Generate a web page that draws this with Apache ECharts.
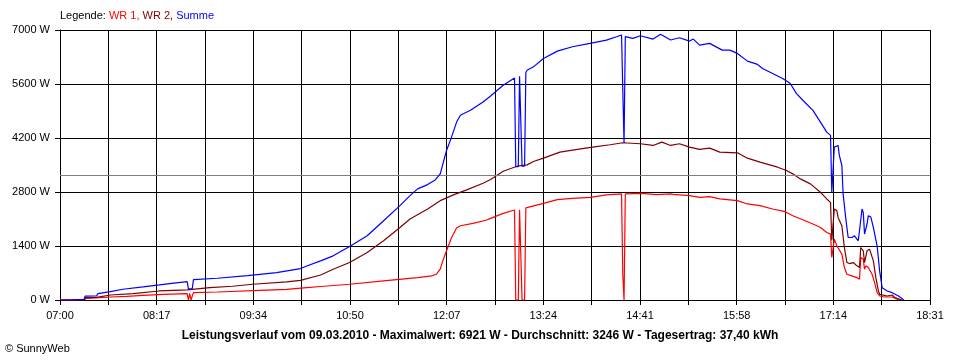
<!DOCTYPE html>
<html>
<head>
<meta charset="utf-8">
<style>
  html, body { margin: 0; padding: 0; background: #ffffff; }
  #chart { width: 960px; height: 360px; }
</style>
<script src="https://cdn.jsdelivr.net/npm/echarts@6/dist/echarts.min.js"></script>
</head>
<body>
<div id="chart"></div>
<script>
// ---- data ----
const timeStart = "07:00";
const timeEnd = "18:31";
const xTickLabels = ["07:00","08:17","09:34","10:50","12:07","13:24","14:41","15:58","17:14","18:31"];
const yMax = 7000;
const yStep = 1400;
const averageW = 3246;
const legendLabels = ["WR 1", "WR 2", "Summe"];
const titleText = "Leistungsverlauf vom 09.03.2010 - Maximalwert: 6921 W - Durchschnitt: 3246 W - Tagesertrag: 37,40 kWh";
const copyrightText = "\u00A9 SunnyWeb";

const wr1 = [
  ["07:00",0],["07:19",0],["07:20",18],["07:21",44],["07:32",60],["07:40",78],["07:53",96],["08:06",122],["08:22",148],
  ["08:41",165],["08:42",0],["08:43",170],["08:44",0],["08:45",0],["08:46",190],["09:05",208],["09:39",252],["10:00",278],
  ["10:16",320],["10:27",350],["10:50",408],["11:17",494],["11:44",580],["11:55",624],["11:59",668],["12:02",798],
  ["12:04",1015],["12:07",1275],["12:11",1621],["12:15",1866],["12:18",1925],["12:28",1985],["12:39",2074],["12:42",2116],
  ["12:52",2246],["13:01",2334],["13:02",0],["13:04",0],["13:05",2340],["13:06",2340],["13:07",0],["13:09",0],["13:10",2390],
  ["13:11",2402],["13:24",2506],["13:35",2602],["13:47",2636],["14:01",2662],["14:14",2724],["14:26",2750],["14:27",668],
  ["14:28",0],["14:29",2750],["14:41",2766],["14:54",2732],["15:05",2750],["15:07",2740],["15:20",2706],["15:28",2662],
  ["15:36",2680],["15:44",2620],["15:58",2576],["16:06",2490],["16:16",2446],["16:26",2360],["16:36",2290],["16:42",2186],
  ["16:50",2082],["16:58",1970],["17:04",1881],["17:09",1751],["17:12",1709],["17:13",1101],["17:14",1101],["17:15",1579],
  ["17:17",1405],["17:18",1361],["17:21",1189],["17:23",841],["17:25",668],["17:29",624],["17:33",580],["17:35",538],
  ["17:36",1101],["17:38",1059],["17:39",798],["17:40",885],["17:42",841],["17:45",668],["17:47",450],["17:49",190],
  ["17:51",104],["17:55",78],["18:01",78],["18:05",18],["18:06",0]
];

const wr2 = [
  ["07:00",0],["07:19",0],["07:20",60],["07:29",70],["07:30",86],["07:40",130],["07:58",164],["08:19",234],["08:41",260],
  ["08:59",320],["09:17",356],["09:33",408],["10:00",468],["10:11",510],["10:27",648],["10:37",798],["10:50",971],
  ["11:04",1231],["11:17",1535],["11:30",1881],["11:38",2100],["11:52",2360],["12:02",2576],["12:13",2732],["12:23",2854],
  ["12:36",3026],["12:42",3122],["12:52",3339],["13:03",3469],["13:11",3504],["13:16",3591],["13:24",3677],["13:37",3833],
  ["13:51",3903],["14:03",3963],["14:17",4025],["14:27",4077],["14:41",4051],["14:51",4007],["14:58",4093],["15:05",4007],
  ["15:12",4051],["15:20",3963],["15:28",3903],["15:36",3937],["15:44",3833],["15:58",3816],["16:06",3677],["16:16",3573],
  ["16:30",3443],["16:37",3357],["16:42",3270],["16:48",3140],["16:56",3010],["17:04",2792],["17:09",2620],["17:12",2532],
  ["17:13",1550],["17:14",1550],["17:15",2360],["17:17",2316],["17:18",2142],["17:21",1925],["17:23",1361],["17:25",971],
  ["17:27",945],["17:30",971],["17:33",885],["17:35",841],["17:36",1361],["17:38",1275],["17:39",971],["17:41",1275],
  ["17:43",1319],["17:46",1015],["17:48",580],["17:50",234],["17:51",148],["17:57",104],["18:01",130],["18:03",60],
  ["18:07",18],["18:09",0]
];

const summe = [
  ["07:00",0],["07:07",0],["07:08",15],["07:19",15],["07:20",100],["07:29",104],["07:30",164],["07:40",216],["07:50",278],
  ["08:06",338],["08:19",390],["08:27",424],["08:41",476],["08:42",286],["08:45",286],["08:46",528],["09:05",564],
  ["09:29",632],["09:52",710],["10:11",815],["10:16",880],["10:27",1015],["10:37",1145],["10:50",1387],["11:04",1665],
  ["11:17",2056],["11:30",2446],["11:38",2706],["11:44",2880],["11:52",2992],["11:58",3114],["11:59",3078],["12:02",3270],
  ["12:07",3877],["12:11",4223],["12:15",4613],["12:18",4788],["12:26",4918],["12:36",5134],["12:42",5290],["12:52",5568],
  ["13:01",5758],["13:02",3460],["13:04",3460],["13:05",5800],["13:06",5800],["13:07",3470],["13:09",3470],["13:10",5900],
  ["13:11",5958],["13:16",6045],["13:24",6263],["13:35",6453],["13:47",6565],["14:01",6653],["14:14",6739],["14:22",6825],
  ["14:26",6869],["14:27",5440],["14:28",4070],["14:29",6830],["14:30",6825],["14:35",6783],["14:41",6850],["14:51",6765],
  ["14:57",6888],["15:05",6740],["15:12",6800],["15:20",6713],["15:23",6765],["15:28",6609],["15:36",6653],["15:46",6479],
  ["15:52",6479],["15:58",6393],["16:06",6193],["16:14",6107],["16:18",6003],["16:26",5873],["16:34",5743],["16:40",5613],
  ["16:45",5352],["16:50",5178],["16:58",4918],["17:04",4613],["17:09",4353],["17:12",4267],["17:13",2792],["17:14",2792],
  ["17:15",3963],["17:18",4007],["17:19",3747],["17:21",3487],["17:22",2750],["17:24",2142],["17:26",1621],["17:29",1621],
  ["17:31",1665],["17:34",1535],["17:35",1795],["17:37",2360],["17:38",2272],["17:39",1709],["17:41",1970],["17:42",2186],
  ["17:44",2150],["17:46",1881],["17:49",1405],["17:51",755],["17:53",320],["17:57",234],["18:01",190],["18:06",104],
  ["18:09",34],["18:10",0]
];

// ---- helpers ----
function toMin(t) { const p = t.split(":"); return (+p[0]) * 60 + (+p[1]); }
function prep(arr) { return arr.map(d => [toMin(d[0]), d[1]]); }

const xMin = toMin(timeStart);
const xMax = toMin(timeEnd);
const gridSteps = (xTickLabels.length - 1) * 2;

const FONT = "Liberation Sans, Arial, sans-serif";
const chart = echarts.init(document.getElementById("chart"), null, { renderer: "canvas" });

chart.setOption({
  animation: false,
  backgroundColor: "#ffffff",
  textStyle: { fontFamily: FONT },
  title: [
    {
      text: "{k|Legende:} {a|" + legendLabels[0] + ",} {b|" + legendLabels[1] + ",} {c|" + legendLabels[2] + "}",
      left: 60, top: 10, padding: 0,
      textStyle: {
        fontSize: 11, fontWeight: "normal", fontFamily: FONT,
        rich: {
          k: { color: "#000000", fontSize: 11, fontFamily: FONT },
          a: { color: "#ff0000", fontSize: 11, fontFamily: FONT },
          b: { color: "#800000", fontSize: 11, fontFamily: FONT },
          c: { color: "#0000ff", fontSize: 11, fontFamily: FONT }
        }
      }
    },
    {
      text: titleText, left: "center", top: 330, padding: 0,
      textStyle: { fontSize: 12, fontWeight: "bold", color: "#000000", fontFamily: FONT }
    },
    {
      text: copyrightText, left: 5, top: 343, padding: 0,
      textStyle: { fontSize: 11, fontWeight: "normal", color: "#000000", fontFamily: FONT }
    }
  ],
  grid: { left: 60, top: 30, width: 870, height: 270, containLabel: false },
  xAxis: [
    {
      type: "value", min: xMin, max: xMax, show: false
    },
    {
      type: "value", min: 0, max: gridSteps, interval: 1, position: "bottom",
      axisLine: { show: true, onZero: false, lineStyle: { color: "#000000", width: 1 } },
      axisTick: { show: true, length: 5, lineStyle: { color: "#000000", width: 1 } },
      splitLine: { show: true, lineStyle: { color: "#000000", width: 1 } },
      axisLabel: {
        show: true, margin: 10, color: "#000000", fontSize: 11, fontFamily: FONT,
        showMinLabel: true, showMaxLabel: true, interval: 0,
        formatter: function (v) { return v % 2 === 0 ? xTickLabels[v / 2] : ""; }
      }
    }
  ],
  yAxis: {
    type: "value", min: 0, max: yMax, interval: yStep,
    axisLine: { show: true, lineStyle: { color: "#000000", width: 1 } },
    axisTick: { show: true, length: 5, lineStyle: { color: "#000000", width: 1 } },
    splitLine: { show: true, lineStyle: { color: "#000000", width: 1 } },
    axisLabel: {
      margin: 10, color: "#000000", fontSize: 11, fontFamily: FONT,
      formatter: function (v) { return String(Math.round(v)) + " W"; }
    }
  },
  series: [
    {
      name: legendLabels[0], type: "line", xAxisIndex: 0, data: prep(wr1),
      showSymbol: false, symbol: "none", lineStyle: { color: "#ff0000", width: 1.2 }, z: 3,
      markLine: {
        silent: true, symbol: "none", label: { show: false },
        lineStyle: { color: "#808080", width: 1, type: "solid" },
        data: [{ yAxis: averageW }]
      }
    },
    {
      name: legendLabels[1], type: "line", xAxisIndex: 0, data: prep(wr2),
      showSymbol: false, symbol: "none", lineStyle: { color: "#800000", width: 1.2 }, z: 4
    },
    {
      name: legendLabels[2], type: "line", xAxisIndex: 0, data: prep(summe),
      showSymbol: false, symbol: "none", lineStyle: { color: "#0000ff", width: 1.2 }, z: 5
    }
  ]
});
</script>
</body>
</html>
